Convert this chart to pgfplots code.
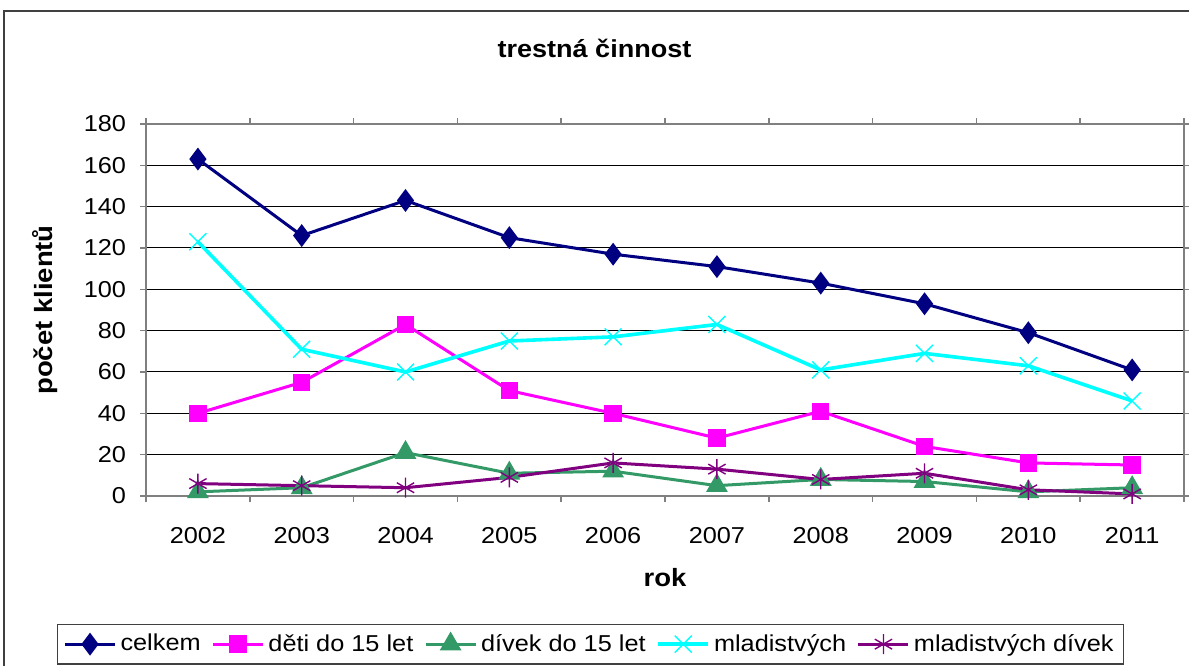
\documentclass[border=0pt]{standalone}
\usepackage{fontspec}
\setmainfont{Liberation Sans}[FakeStretch=1.1]
\usepackage{pgfplots}
\pgfplotsset{compat=1.18}
\definecolor{cnavy}{RGB}{0,0,128}
\definecolor{cmag}{RGB}{255,0,255}
\definecolor{cgreen}{RGB}{51,153,102}
\definecolor{ccyan}{RGB}{0,255,255}
\definecolor{cpurp}{RGB}{128,0,128}
\definecolor{cframe}{RGB}{128,128,128}
\begin{document}
\begin{tikzpicture}[x=0.5bp,y=0.5bp]
\useasboundingbox (0,0) rectangle (1189,666);
\draw[line width=1.2bp, black!75] (4,0) -- (4,655) -- (1189,655);
\node[font=\fontsize{12.3bp}{14bp}\selectfont\bfseries] at (594.5,618) {trestná činnost};
\begin{axis}[
  at={(73bp,85bp)}, anchor=south west,
  scale only axis, width=519bp, height=186bp,
  xmin=-0.5, xmax=9.5, ymin=0, ymax=180,
  xtick={0,...,9},
  xticklabels={2002,2003,2004,2005,2006,2007,2008,2009,2010,2011},
  minor xtick={-0.5,0.5,...,9.5},
  ytick={0,20,...,180},
  major x tick style={draw=none},
  tick align=outside,
  minor tick length=3bp, major tick length=3bp,
  every tick/.style={cframe, line width=0.8bp},
  axis line style={cframe, line width=0.8bp},
  ymajorgrids, major grid style={black, line width=0.5bp},
  tick label style={font=\fontsize{11.5bp}{13bp}\selectfont},
  /pgf/number format/assume math mode=true,
  yticklabel style={xshift=-3.5bp},
  xticklabel style={yshift=-9bp},
  xlabel={rok}, ylabel={počet klientů},
  label style={font=\fontsize{12.5bp}{14bp}\selectfont\bfseries},
  xlabel style={at={(axis description cs:0.5,0)}, anchor=center, yshift=-41bp},
  ylabel style={at={(axis description cs:-0.0973,0.5)}, anchor=center},
  clip=false,
  legend columns=-1,
  legend style={at={(-0.0858,-0.343)}, anchor=north west, draw=black!75, line width=0.6bp,
    font=\fontsize{11.5bp}{13bp}\selectfont, inner ysep=3bp, inner xsep=3bp,
    /tikz/every even column/.append style={column sep=3.4bp}},
  legend image code/.code={\draw[mark repeat=2,mark phase=2] plot coordinates {(0bp,0bp)(12.5bp,0bp)(25bp,0bp)};},
]
\addplot[cnavy, line width=1.5bp, mark=diamond*, mark size=4.5bp, mark options={solid}] coordinates {
(0,163)(1,126)(2,143)(3,125)(4,117)(5,111)(6,103)(7,93)(8,79)(9,61)};
\addlegendentry{celkem}
\addplot[cmag, line width=1.5bp, mark=square*, mark size=3.6bp] coordinates {
(0,40)(1,55)(2,83)(3,51)(4,40)(5,28)(6,41)(7,24)(8,16)(9,15)};
\addlegendentry{děti do 15 let}
\addplot[cgreen, line width=1.5bp, mark=triangle*, mark size=4.8bp] coordinates {
(0,2)(1,4)(2,21)(3,11)(4,12)(5,5)(6,8)(7,7)(8,2)(9,4)};
\addlegendentry{dívek do 15 let}
\addplot[ccyan, line width=1.8bp, mark=x, mark size=6bp, mark options={line width=0.7bp}] coordinates {
(0,123)(1,71)(2,60)(3,75)(4,77)(5,83)(6,61)(7,69)(8,63)(9,46)};
\addlegendentry{mladistvých}
\addplot[cpurp, line width=1.5bp, mark=asterisk, mark size=5bp, mark options={line width=0.7bp}] coordinates {
(0,6)(1,5)(2,4)(3,9)(4,16)(5,13)(6,8)(7,11)(8,3)(9,1)};
\addlegendentry{mladistvých dívek}
\end{axis}
\end{tikzpicture}
\end{document}
